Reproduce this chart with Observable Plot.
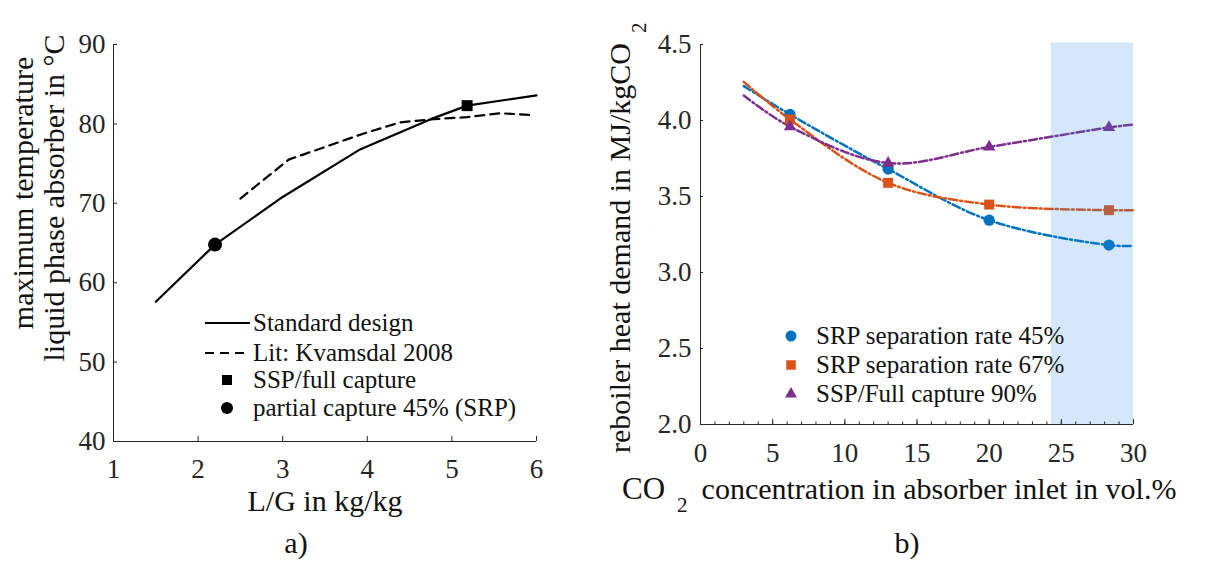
<!DOCTYPE html>
<html><head><meta charset="utf-8">
<script src="https://cdn.jsdelivr.net/npm/d3@7"></script>
<script src="https://cdn.jsdelivr.net/npm/@observablehq/plot@0.6"></script>
<style>
body{margin:0;background:#fff;}
#wrap{position:relative;width:1208px;height:563px;overflow:hidden;}
#wrap > *{position:absolute;top:0;}
</style></head><body><div id="wrap"></div>
<script>
// ---------- Panel a) data ----------
const lgStd   = [1.5, 2.2, 3.0, 3.9, 4.75, 5.18, 6.0];
const tStd    = [57.6, 64.8, 70.8, 76.7, 80.6, 82.3, 83.6];
const lgLit   = [2.5, 3.07, 3.96, 4.39, 4.79, 5.18, 5.57, 5.96];
const tLit    = [70.6, 75.5, 78.8, 80.2, 80.6, 80.85, 81.35, 81.1];
const lgSSP   = [5.18];
const tSSP    = [82.3];
const lgSRP   = [2.2];
const tSRP    = [64.8];
const xTicksA = [1, 2, 3, 4, 5, 6];
const yTicksA = [40, 50, 60, 70, 80, 90];
const legendA = ["Standard design", "Lit: Kvamsdal 2008", "SSP/full capture", "partial capture 45% (SRP)"];

// ---------- Panel b) data ----------
const co2Line = [3, 6.2, 13, 20, 28.3, 30];
const q45Line = [4.226, 4.04, 3.68, 3.344, 3.18, 3.175];
const q67Line = [4.254, 4.007, 3.59, 3.447, 3.41, 3.41];
const q90Line = [4.164, 3.96, 3.72, 3.826, 3.954, 3.974];
const co2Pts  = [6.2, 13, 20, 28.3];
const q45Pts  = [4.04, 3.68, 3.344, 3.18];
const q67Pts  = [4.007, 3.59, 3.447, 3.41];
const q90Pts  = [3.96, 3.72, 3.826, 3.954];
const shadeX  = [24.3, 30];
const shadeY  = [2, 4.51];
const xTicksB = [0, 5, 10, 15, 20, 25, 30];
const xMinorB = d3.range(0, 31, 1);
const yTicksB = [2.0, 2.5, 3.0, 3.5, 4.0, 4.5];
const legendB = ["SRP separation rate 45%", "SRP separation rate 67%", "SSP/Full capture 90%"];
const colors  = ["#0072BD", "#D95319", "#7E2F8E"];

const FONT = "'Liberation Serif', 'Times New Roman', serif";
const INK = "#262626";
const zip = (xs, ys) => xs.map((x, i) => ({x, y: ys[i]}));

// ---------- Panel a) ----------
const plotA = Plot.plot({
  width: 600, height: 563,
  marginLeft: 113, marginRight: 64, marginTop: 44, marginBottom: 122,
  x: {domain: [1, 6]},
  y: {domain: [40, 90]},
  style: {fontFamily: FONT, fontSize: "27px", color: INK, background: "transparent", overflow: "visible"},
  marks: [
    Plot.axisX({ticks: xTicksA, tickSize: -5, tickPadding: 22, tickFormat: d3.format("d"), label: null, fontSize: 27}),
    Plot.axisY({ticks: yTicksA, tickSize: -4, tickPadding: 12, tickFormat: d3.format("d"), label: null, fontSize: 27}),
    Plot.ruleY([40], {stroke: INK}),
    Plot.ruleX([1], {stroke: INK}),
    Plot.line(zip(lgLit, tLit), {x: "x", y: "y", stroke: "#000", strokeWidth: 2.2, strokeDasharray: "9,6"}),
    Plot.line(zip(lgStd, tStd), {x: "x", y: "y", stroke: "#000", strokeWidth: 2.2}),
    Plot.dot(zip(lgSSP, tSSP), {x: "x", y: "y", symbol: "square", fill: "#000", r: 6.2}),
    Plot.dot(zip(lgSRP, tSRP), {x: "x", y: "y", symbol: "circle", fill: "#000", r: 7})
  ]
});
plotA.style.left = "0px";

// ---------- Panel b) ----------
const series = [q45Line, q67Line, q90Line];
const pts = [q45Pts, q67Pts, q90Pts];
const symbols = ["circle", "square", "triangle"];
const radii = [5.6, 5.6, 4.6];
const plotB = Plot.plot({
  width: 608, height: 563,
  marginLeft: 100, marginRight: 75, marginTop: 44, marginBottom: 139,
  x: {domain: [0, 30]},
  y: {domain: [2, 4.5]},
  style: {fontFamily: FONT, fontSize: "27px", color: INK, background: "transparent", overflow: "visible"},
  marks: [
    ...series.map((s, i) => Plot.line(zip(co2Line, s), {x: "x", y: "y", curve: "catmull-rom", stroke: colors[i], strokeWidth: 2.5, strokeDasharray: "8,3,2,3"})),
    ...pts.map((s, i) => Plot.dot(zip(co2Pts, s), {x: "x", y: "y", symbol: symbols[i], fill: colors[i], r: radii[i]})),
    Plot.rect([{x1: shadeX[0], x2: shadeX[1], y1: shadeY[0], y2: shadeY[1]}], {x1: "x1", x2: "x2", y1: "y1", y2: "y2", fill: "#2E8CEB", fillOpacity: 0.2}),
    Plot.axisX({ticks: xMinorB, tickSize: -2.5, tickFormat: () => "", label: null}),
    Plot.axisX({ticks: xTicksB, tickSize: -5, tickPadding: 23, tickFormat: d3.format("d"), label: null, fontSize: 27}),
    Plot.axisY({ticks: yTicksB, tickSize: -3, tickPadding: 12, tickFormat: d3.format(".1f"), label: null, fontSize: 27}),
    Plot.ruleY([2], {stroke: INK}),
    Plot.ruleX([0], {stroke: INK})
  ]
});
plotB.style.left = "600px";

const wrap = document.getElementById("wrap");
wrap.appendChild(plotA);
wrap.appendChild(plotB);

// ---------- Overlay: titles and legends ----------
const svg = d3.select(wrap).append("svg")
  .attr("width", 1208).attr("height", 563)
  .style("left", "0px").style("font-family", FONT).style("pointer-events", "none");
const T = svg.append("g").attr("fill", "#111");

// Panel a titles
T.append("text").attr("transform", "translate(33,193) rotate(-90)").attr("text-anchor", "middle").attr("font-size", 30).text("maximum temperature");
T.append("text").attr("transform", "translate(64,198) rotate(-90)").attr("text-anchor", "middle").attr("font-size", 30).text("liquid phase absorber in °C");
T.append("text").attr("x", 325).attr("y", 511).attr("text-anchor", "middle").attr("font-size", 30).text("L/G in kg/kg");
T.append("text").attr("x", 296).attr("y", 553).attr("text-anchor", "middle").attr("font-size", 30).text("a)");

// Panel b titles
const yb = T.append("text").attr("transform", "translate(630,453) rotate(-90)").attr("text-anchor", "start").attr("font-size", 30);
yb.append("tspan").text("reboiler heat demand in MJ/kgCO");
yb.append("tspan").attr("dx", 10).attr("dy", 16).attr("font-size", 21).text("2");
const xb = T.append("text").attr("x", 622).attr("y", 499).attr("text-anchor", "start").attr("font-size", 31);
xb.append("tspan").text("CO");
xb.append("tspan").attr("dx", 12).attr("dy", 13).attr("font-size", 21).text("2");
xb.append("tspan").attr("dx", 14).attr("dy", -13).attr("font-size", 30).text("concentration in absorber inlet in vol.%");
T.append("text").attr("x", 907).attr("y", 553).attr("text-anchor", "middle").attr("font-size", 30).text("b)");

// Legend a
const LA = svg.append("g");
const rowsA = [323, 353, 380, 408];
LA.append("line").attr("x1", 205).attr("x2", 250).attr("y1", rowsA[0]).attr("y2", rowsA[0]).attr("stroke", "#000").attr("stroke-width", 2.2);
LA.append("line").attr("x1", 205).attr("x2", 250).attr("y1", rowsA[1]).attr("y2", rowsA[1]).attr("stroke", "#000").attr("stroke-width", 2.2).attr("stroke-dasharray", "9,6");
LA.append("rect").attr("x", 222).attr("y", rowsA[2] - 5).attr("width", 10).attr("height", 10).attr("fill", "#000");
LA.append("circle").attr("cx", 227).attr("cy", rowsA[3]).attr("r", 6).attr("fill", "#000");
legendA.forEach((t, i) => LA.append("text").attr("x", 253).attr("y", rowsA[i] + 8).attr("font-size", 25).attr("fill", "#111").text(t));

// Legend b
const LB = svg.append("g");
const rowsB = [336, 365, 394];
const sym = [d3.symbolCircle, d3.symbolSquare, d3.symbolTriangle];
const sizes = [95, 90, 62];
rowsB.forEach((y, i) => {
  LB.append("path").attr("transform", `translate(791,${y})`).attr("d", d3.symbol(sym[i], sizes[i])()).attr("fill", colors[i]);
  LB.append("text").attr("x", 816).attr("y", y + 8).attr("font-size", 25).attr("fill", "#111").text(legendB[i]);
});
</script>
</body></html>
